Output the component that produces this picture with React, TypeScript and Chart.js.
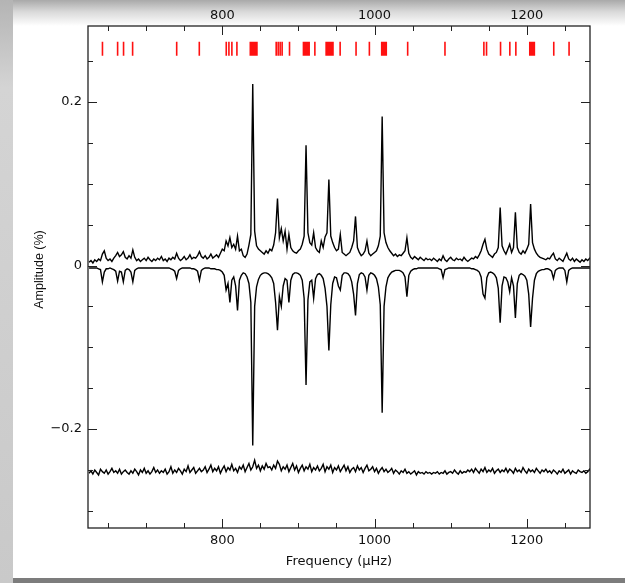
import { useEffect, useRef } from "react";
import { Chart, registerables } from "chart.js";

Chart.register(...registerables);

// Frequency grid of the amplitude spectra (µHz)
const FREQ_START = 625;
const FREQ_STEP = 2.5;

// Observed amplitude spectrum, in units of 0.001 %
const OBS_AMP = [
  4, 6, 3, 7, 5, 8, 6, 14, 18, 9, 6, 8, 5, 9, 12, 16, 11, 13, 17, 10,
  8, 12, 9, 19, 10, 6, 8, 5, 7, 9, 6, 10, 7, 5, 8, 6, 9, 7, 11, 6,
  8, 5, 9, 7, 10, 8, 15, 9, 6, 8, 11, 7, 9, 13, 8, 10, 9, 12, 17, 11,
  9, 12, 8, 10, 14, 9, 11, 13, 10, 15, 20, 18, 30, 24, 34, 22, 26, 20, 36, 18,
  20, 12, 10, 14, 25, 38, 222, 42, 24, 20, 18, 16, 14, 18, 15, 20, 18, 25, 40, 82,
  34, 45, 30, 42, 20, 38, 22, 18, 16, 15, 18, 20, 26, 36, 147, 40, 28, 25, 40, 22,
  18, 16, 30, 22, 35, 40, 105, 36, 28, 22, 18, 20, 38, 16, 14, 12, 14, 16, 22, 30,
  60, 22, 16, 12, 14, 18, 30, 15, 12, 14, 16, 18, 24, 36, 182, 40, 28, 22, 18, 15,
  12, 14, 11, 13, 12, 15, 18, 34, 15, 10, 8, 11, 9, 7, 10, 8, 6, 9, 7, 8,
  6, 9, 7, 5, 8, 6, 12, 7, 5, 8, 10, 7, 6, 9, 7, 8, 6, 10, 7, 5,
  7, 9, 8, 11, 9, 13, 18, 26, 32, 20, 14, 12, 10, 14, 16, 22, 71, 24, 18, 14,
  20, 26, 16, 22, 65, 22, 16, 14, 18, 15, 20, 26, 75, 28, 20, 15, 12, 10, 9, 8,
  7, 9, 8, 12, 15, 8, 6, 9, 7, 5, 10, 15, 8, 6, 9, 5, 8, 6, 4, 7,
  5, 8, 6, 9, 7,
];

// Synthetic spectrum of the fitted modes, plotted mirrored (0.001 %)
const MODEL_AMP = [
  -3, -3, -3, -3, -3, -4, -5, -20, -8, -4, -4, -3, -4, -5, -7, -19, -7, -8, -20, -6,
  -4, -5, -8, -20, -6, -4, -3, -3, -3, -3, -3, -3, -3, -3, -3, -3, -3, -3, -3, -3,
  -3, -3, -3, -4, -5, -7, -16, -6, -4, -3, -3, -3, -3, -3, -4, -4, -5, -7, -18, -6,
  -4, -3, -3, -3, -4, -4, -4, -5, -5, -6, -8, -12, -30, -22, -45, -18, -14, -25, -55, -18,
  -12, -9, -10, -14, -22, -45, -220, -50, -26, -17, -12, -10, -9, -9, -10, -12, -15, -22, -45, -79,
  -38, -50, -25, -16, -18, -45, -18, -11, -9, -9, -10, -12, -18, -40, -146, -42, -20, -18, -40, -16,
  -11, -10, -12, -16, -28, -50, -104, -48, -22, -14, -15, -25, -30, -12, -9, -9, -10, -13, -20, -35,
  -61, -22, -11, -9, -10, -14, -30, -12, -9, -10, -12, -16, -26, -48, -180, -50, -26, -15, -11, -8,
  -7, -6, -6, -6, -7, -9, -14, -38, -12, -7, -5, -4, -4, -3, -3, -3, -3, -3, -3, -3,
  -3, -3, -3, -3, -4, -5, -15, -5, -4, -3, -3, -3, -3, -3, -3, -3, -3, -3, -3, -3,
  -3, -4, -4, -5, -6, -8, -14, -35, -40, -15, -9, -8, -9, -11, -15, -28, -70, -25, -14, -15,
  -20, -32, -15, -25, -64, -22, -12, -10, -11, -13, -18, -35, -75, -40, -18, -10, -7, -6, -5, -5,
  -4, -4, -5, -7, -16, -6, -4, -3, -3, -3, -6, -20, -6, -4, -3, -3, -3, -3, -3, -3,
  -3, -3, -3, -3, -3,
];

// Residual spectrum after prewhitening (0.001 %), shifted down by RESID_OFFSET
const RESID_AMP = [
  4, 7, 3, 8, 5, 2, 9, 6, 4, 8, 3, 6, 10, 5, 7, 4, 9, 3, 6, 8,
  5, 3, 7, 4, 9, 6, 2, 8, 5, 10, 4, 7, 3, 6, 11, 5, 8, 4, 7, 5,
  9, 3, 6, 12, 4, 8, 5, 10, 7, 3, 9, 6, 13, 5, 8, 11, 4, 7, 10, 6,
  8, 12, 5, 9, 14, 6, 10, 7, 12, 4, 9, 13, 6, 11, 8, 15, 7, 10, 5, 12,
  9, 14, 6, 11, 16, 8, 12, 20, 10, 14, 7, 13, 9, 16, 11, 12, 8, 14, 10, 19,
  15, 7, 12, 9, 14, 6, 11, 16, 8, 13, 5, 10, 14, 7, 12, 9, 15, 6, 11, 8,
  13, 7, 10, 15, 6, 12, 9, 14, 5, 11, 8, 13, 6, 10, 14, 7, 12, 5, 9, 11,
  6, 13, 8, 11, 5, 10, 14, 7, 9, 12, 6, 10, 4, 8, 11, 6, 9, 5, 7, 10,
  4, 8, 6, 3, 7, 5, 9, 4, 6, 3, 5, 7, 2, 6, 4, 5, 3, 6, 4, 5,
  3, 5, 4, 6, 3, 5, 4, 7, 3, 5, 6, 4, 8, 5, 3, 7, 4, 6, 5, 8,
  6, 9, 5, 10, 7, 4, 9, 6, 11, 5, 8, 6, 10, 4, 7, 9, 5, 8, 6, 10,
  5, 9, 7, 4, 10, 6, 8, 5, 11, 7, 4, 9, 6, 8, 5, 10, 7, 4, 8, 6,
  9, 5, 7, 4, 8, 6, 3, 7, 5, 9, 4, 6, 8, 3, 7, 5, 4, 8, 6, 5,
  7, 4, 6, 9, 5,
];
const RESID_OFFSET = -0.258;

// Frequencies of the identified modes (µHz), shown as red markers
const MODE_FREQS = [
  642.6, 662.5, 670.3, 682.2, 740.1, 769.8, 805.2, 808.7, 812.6, 819.2,
  836.8, 838.3, 839.8, 841.3, 842.8, 844.3, 845.5,
  870.8, 873.4, 876.0, 878.6, 888.3,
  906.6, 908.1, 909.6, 911.1, 912.6, 914.1, 921.6,
  936.4, 937.9, 939.4, 940.9, 942.4, 943.9, 945.4,
  954.8, 975.7, 993.2,
  1009.4, 1010.9, 1012.4, 1013.9, 1015.4,
  1043.5, 1092.5, 1143.6, 1147.1, 1165.5, 1177.7, 1185.6,
  1203.9, 1205.4, 1206.9, 1208.4, 1209.9,
  1235.4, 1255.5,
];
const MARK_LOW = 0.2564;
const MARK_HIGH = 0.2735;

// Axes
const X_MIN = 623.6;
const X_MAX = 1283;
const Y_MIN = -0.3209;
const Y_MAX = 0.2928;
const X_MAJOR = [800, 1000, 1200];
const X_MINOR = [650, 700, 750, 850, 900, 950, 1050, 1100, 1150, 1250];
const Y_MAJOR = [-0.2, 0, 0.2];
const Y_MINOR = [-0.3, -0.25, -0.15, -0.1, -0.05, 0.05, 0.1, 0.15, 0.25];
const X_TITLE = "Frequency (µHz)";
const Y_TITLE = "Amplitude (%)";

const toPoints = (vals: number[], offset = 0) =>
  vals.map((a, i) => ({ x: FREQ_START + i * FREQ_STEP, y: offset + a / 1000 }));

const INK = "#111";
const TICK_FONT = { family: "'DejaVu Sans', sans-serif", size: 13 };

const yLabel = (v: number) => (v === 0 ? "0" : v < 0 ? "\u2212" + Math.abs(v) : String(v));

const frameAndTicks = {
  id: "frameAndTicks",
  afterDraw(chart: any) {
    const { ctx, chartArea: a, scales } = chart;
    ctx.save();
    ctx.strokeStyle = "#222";
    ctx.lineWidth = 1.3;
    ctx.strokeRect(a.left, a.top, a.right - a.left, a.bottom - a.top);
    const xTick = (v: number, len: number) => {
      const px = Math.round(scales.x.getPixelForValue(v)) + 0.5;
      ctx.beginPath();
      ctx.moveTo(px, a.bottom);
      ctx.lineTo(px, a.bottom - len);
      ctx.moveTo(px, a.top);
      ctx.lineTo(px, a.top + len);
      ctx.stroke();
    };
    const yTick = (v: number, len: number) => {
      const py = Math.round(scales.y.getPixelForValue(v)) + 0.5;
      ctx.beginPath();
      ctx.moveTo(a.left, py);
      ctx.lineTo(a.left + len, py);
      ctx.moveTo(a.right, py);
      ctx.lineTo(a.right - len, py);
      ctx.stroke();
    };
    ctx.lineWidth = 1;
    X_MAJOR.forEach((v) => xTick(v, 9));
    X_MINOR.forEach((v) => xTick(v, 5));
    Y_MAJOR.forEach((v) => yTick(v, 9));
    Y_MINOR.forEach((v) => yTick(v, 5));

    ctx.fillStyle = INK;
    ctx.textAlign = "center";
    ctx.textBaseline = "middle";
    ctx.font = "13px 'DejaVu Sans', sans-serif";
    ctx.fillText(X_TITLE, (a.left + a.right) / 2, 562);
    ctx.translate(40, 269.5);
    ctx.rotate(-Math.PI / 2);
    ctx.font = "12.5px 'Liberation Sans', sans-serif";
    ctx.fillText(Y_TITLE, 0, 0);
    ctx.restore();
  },
};

export default function App() {
  const ref = useRef<HTMLCanvasElement | null>(null);

  useEffect(() => {
    if (!ref.current) return;
    const marks = MODE_FREQS.flatMap((f) => [
      { x: f, y: MARK_LOW },
      { x: f, y: MARK_HIGH },
      { x: f, y: null as any },
    ]);
    const xTicks = (s: any) => {
      s.ticks = X_MAJOR.map((value) => ({ value }));
    };
    const xCommon = {
      type: "linear" as const,
      min: X_MIN,
      max: X_MAX,
      grid: { display: false, drawTicks: false },
      border: { display: false },
      afterBuildTicks: xTicks,
    };
    const chart = new Chart(ref.current, {
      type: "line",
      data: {
        datasets: [
          { data: toPoints(OBS_AMP), borderColor: "#000", borderWidth: 1.4 },
          { data: toPoints(MODEL_AMP), borderColor: "#000", borderWidth: 1.4 },
          { data: toPoints(RESID_AMP, RESID_OFFSET), borderColor: "#000", borderWidth: 1.4 },
          { data: marks, borderColor: "#ff1010", borderWidth: 1.6, spanGaps: false },
        ],
      },
      options: {
        animation: false,
        responsive: false,
        devicePixelRatio: 1,
        parsing: false as any,
        normalized: true,
        layout: { padding: { left: 0, right: 35, top: 0, bottom: 0 } },
        plugins: { legend: { display: false }, tooltip: { enabled: false } },
        elements: { point: { radius: 0 }, line: { tension: 0, fill: false } },
        scales: {
          x: {
            ...xCommon,
            position: "bottom",
            ticks: { font: TICK_FONT, color: INK, padding: 5, maxRotation: 0, callback: (v: any) => String(v) },
            afterFit: (s: any) => {
              s.height = 55;
            },
          },
          x2: {
            ...xCommon,
            position: "top",
            ticks: { font: TICK_FONT, color: INK, padding: 3, maxRotation: 0, callback: (v: any) => String(v) },
            afterFit: (s: any) => {
              s.height = 26;
            },
          },
          y: {
            type: "linear",
            position: "left",
            min: Y_MIN,
            max: Y_MAX,
            grid: { display: false, drawTicks: false },
            border: { display: false },
            afterBuildTicks: (s: any) => {
              s.ticks = Y_MAJOR.map((value) => ({ value }));
            },
            ticks: { font: TICK_FONT, color: INK, padding: 6, callback: (v: any) => yLabel(Number(v)) },
            afterFit: (s: any) => {
              s.width = 88;
            },
          },
        },
      } as any,
      plugins: [frameAndTicks],
    });
    return () => chart.destroy();
  }, []);

  return (
    <div style={{ position: "fixed", left: 0, top: 0, width: 625, height: 583, background: "#fff", overflow: "hidden" }}>
      <div style={{ position: "absolute", left: 13, top: 0, right: 0, height: 26, background: "linear-gradient(to bottom, #a9a9a9, #d9d9d9 45%, rgba(255,255,255,0))" }} />
      <div style={{ position: "absolute", left: 0, top: 0, width: 13, height: 583, background: "linear-gradient(to bottom, #b4b4b4, #d4d4d4 15%, #c9c9c9)" }} />
      <div style={{ position: "absolute", left: 13, bottom: 0, right: 0, height: 5, background: "#7c7c7c" }} />
      <canvas ref={ref} width={625} height={583} style={{ position: "absolute", left: 0, top: 0, width: 625, height: 583 }} />
    </div>
  );
}
